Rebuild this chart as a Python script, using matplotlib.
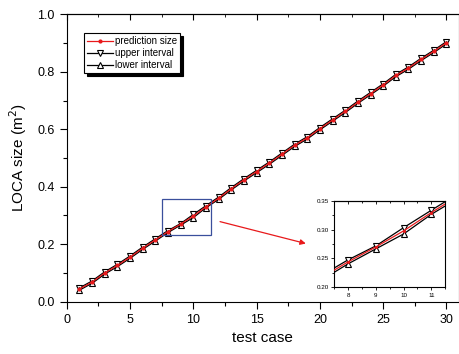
import matplotlib
matplotlib.use("Agg")
import matplotlib.pyplot as plt
from matplotlib.ticker import MultipleLocator
from matplotlib.patches import Rectangle

plt.rcParams['font.family'] = ['Liberation Sans', 'DejaVu Sans']

test_case = list(range(1, 31))
prediction = [0.044, 0.068, 0.100, 0.126, 0.155, 0.186, 0.215, 0.244, 0.270, 0.298,
              0.330, 0.360, 0.393, 0.424, 0.453, 0.482, 0.513, 0.544, 0.570, 0.602,
              0.632, 0.662, 0.694, 0.724, 0.754, 0.787, 0.813, 0.843, 0.871, 0.901]
upper = [0.048, 0.072, 0.104, 0.130, 0.159, 0.190, 0.219, 0.2475, 0.2718, 0.3036,
         0.334, 0.364, 0.397, 0.428, 0.457, 0.486, 0.517, 0.548, 0.574, 0.606,
         0.636, 0.666, 0.698, 0.728, 0.758, 0.791, 0.817, 0.847, 0.875, 0.905]
lower = [0.040, 0.064, 0.096, 0.122, 0.151, 0.182, 0.211, 0.2405, 0.2666, 0.2926,
         0.3269, 0.356, 0.389, 0.420, 0.449, 0.478, 0.509, 0.540, 0.566, 0.598,
         0.628, 0.658, 0.690, 0.720, 0.750, 0.783, 0.809, 0.839, 0.867, 0.897]

fig = plt.figure(figsize=(4.59, 3.54), dpi=100)
ax = fig.add_axes([0.1453, 0.1477, 0.855, 0.812])


def draw(a, ms_tri, ms_dot, lw):
    a.plot(test_case, upper, color='black', lw=lw, marker='v', ms=ms_tri,
           mfc='white', mec='black', mew=0.8, label='upper interval', zorder=3)
    a.plot(test_case, lower, color='black', lw=lw, marker='^', ms=ms_tri,
           mfc='white', mec='black', mew=0.8, label='lower interval', zorder=3)
    a.plot(test_case, prediction, color='#e8191b', lw=lw, marker='o', ms=ms_dot,
           mfc='#e8191b', mec='#e8191b', label='prediction size', zorder=4)


draw(ax, 4.6, 2.0, 0.9)
ax.set_xlim(0, 31)
ax.set_ylim(0, 1.0)
ax.xaxis.set_major_locator(MultipleLocator(5))
ax.xaxis.set_minor_locator(MultipleLocator(2.5))
ax.yaxis.set_major_locator(MultipleLocator(0.2))
ax.yaxis.set_minor_locator(MultipleLocator(0.1))
ax.tick_params(axis='both', which='both', direction='out', top=False, right=False,
               labelsize=9)
ax.tick_params(which='major', length=5, width=0.8)
ax.tick_params(which='minor', length=3, width=0.8)
ax.set_yticks([0.0, 0.2, 0.4, 0.6, 0.8, 1.0])
ax.set_yticklabels(['0.0', '0.2', '0.4', '0.6', '0.8', '1.0'])
sec = ax.secondary_xaxis('top')
sec.xaxis.set_major_locator(MultipleLocator(5))
sec.xaxis.set_minor_locator(MultipleLocator(2.5))
sec.tick_params(which='both', direction='in', labeltop=False)
sec.tick_params(which='major', length=4)
sec.tick_params(which='minor', length=2)
ax.set_xlabel('test case', fontsize=11, labelpad=4)
ax.set_ylabel('LOCA size (m$^2$)', fontsize=11, labelpad=6)

handles, labels = ax.get_legend_handles_labels()
order = [2, 0, 1]
leg = ax.legend([handles[i] for i in order], [labels[i] for i in order],
                loc='upper left', bbox_to_anchor=(0.04, 0.94), fontsize=7,
                frameon=True, fancybox=False,
                shadow={'color': 'black', 'alpha': 1.0}, edgecolor='black',
                handlelength=2.6, borderpad=0.3, labelspacing=0.2,
                handletextpad=0.3, borderaxespad=0.2)
leg.get_frame().set_linewidth(0.8)

# zoom rectangle
ax.add_patch(Rectangle((7.53, 0.232), 3.9, 0.125, fill=False,
                       edgecolor='#3a4f9c', lw=0.9, zorder=5))
ax.annotate('', xy=(19.1, 0.200), xytext=(11.9, 0.281),
            arrowprops=dict(arrowstyle='-|>', color='#e8191b', lw=0.9,
                            mutation_scale=8))

# inset
ins = fig.add_axes([0.728, 0.189, 0.242, 0.243])
draw(ins, 5, 1.2, 0.9)
ins.set_xlim(7.5, 11.5)
ins.set_ylim(0.20, 0.35)
ins.xaxis.set_major_locator(MultipleLocator(1))
ins.xaxis.set_minor_locator(MultipleLocator(0.5))
ins.yaxis.set_major_locator(MultipleLocator(0.05))
ins.yaxis.set_minor_locator(MultipleLocator(0.025))
ins.tick_params(which='both', direction='out', labelsize=4.5, pad=1.5,
                top=False, right=False)
ins.tick_params(which='major', length=2.5, width=0.6)
ins.tick_params(which='minor', length=1.5, width=0.6)
ins.set_yticks([0.20, 0.25, 0.30, 0.35])
ins.set_yticklabels(['0.20', '0.25', '0.30', '0.35'])
isec = ins.secondary_xaxis('top')
isec.xaxis.set_major_locator(MultipleLocator(1))
isec.xaxis.set_minor_locator(MultipleLocator(0.5))
isec.tick_params(which='both', direction='in', labeltop=False, width=0.6)
isec.tick_params(which='major', length=2)
isec.tick_params(which='minor', length=1.2)
for s in ins.spines.values():
    s.set_linewidth(0.8)

fig.savefig('out.png', dpi=100)
